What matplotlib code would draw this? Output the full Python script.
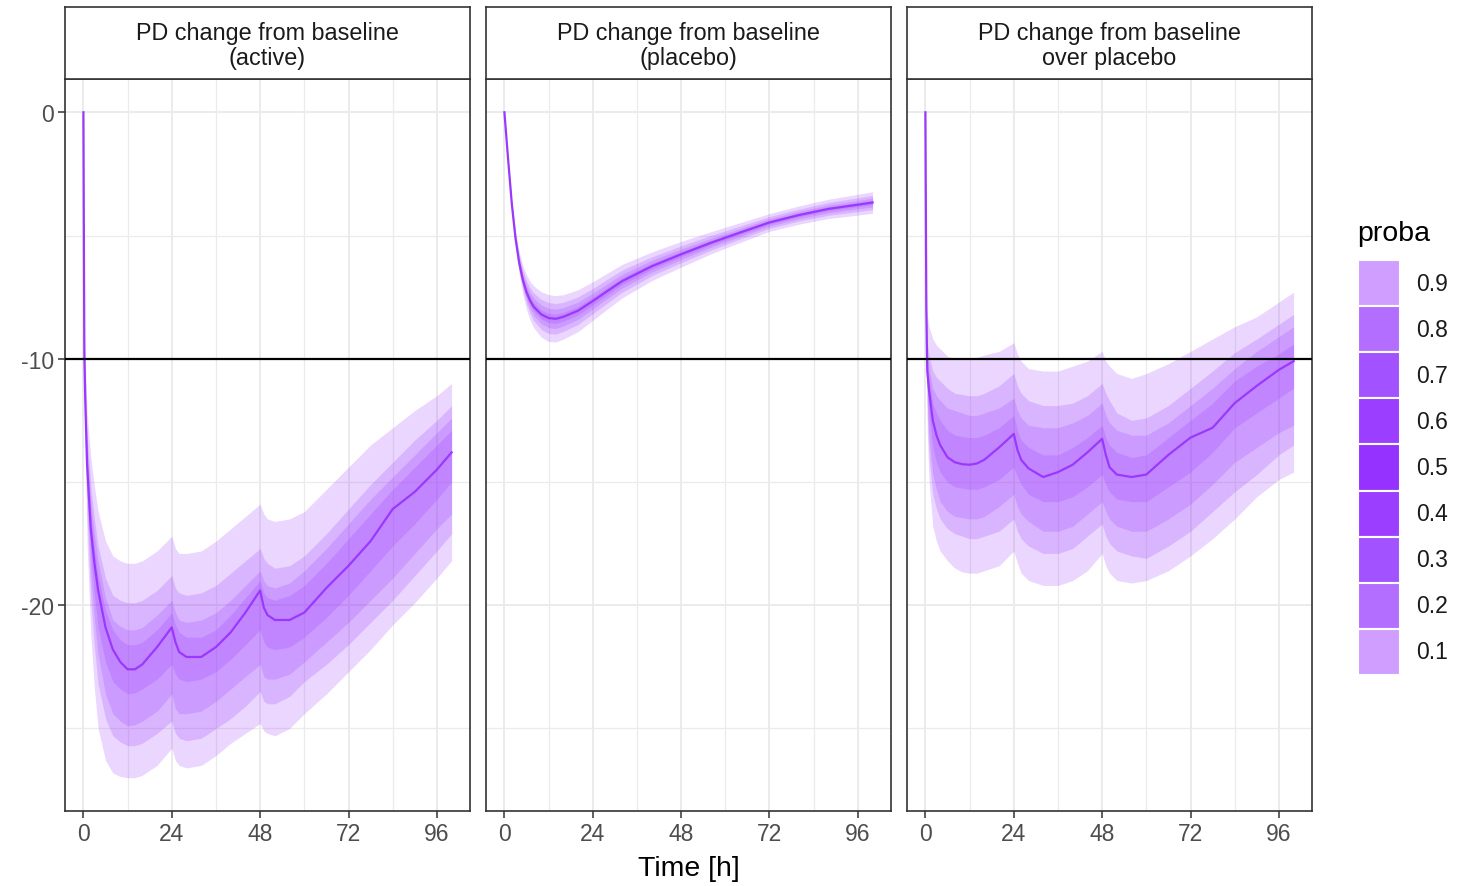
import matplotlib
matplotlib.use("Agg")
import matplotlib.pyplot as plt
from matplotlib.patches import Rectangle

plt.rcParams['font.family'] = ['Liberation Sans', 'DejaVu Sans']
plt.rcParams['axes.unicode_minus'] = False

# ---- data ----
facets = ["PD change from baseline\n(active)",
          "PD change from baseline\n(placebo)",
          "PD change from baseline\nover placebo"]

# active / over placebo share this time grid
t_dose = [0, 0.25, 0.5, 1, 2, 3, 4, 6, 8, 10, 12, 14, 16, 20, 24, 25, 26, 28, 32, 36, 40,
          44, 48, 49, 50, 52, 56, 60, 66, 72, 78, 84, 90, 96, 100]

act_q10 = [0, -11.0, -14.0, -17.5, -21.2, -23.4, -25.0, -26.3, -26.8, -26.95, -27.0, -27.0, -26.9, -26.5, -25.8, -26.3, -26.5,
           -26.6, -26.5, -26.1, -25.6, -25.2, -24.8, -25.1, -25.2, -25.3, -25.0, -24.4, -23.6, -22.7, -21.8, -20.8, -19.9, -18.9, -18.2]
act_q20 = [0, -10.5, -13.2, -16.4, -19.8, -21.7, -23.2, -24.6, -25.3, -25.55, -25.7, -25.7, -25.6, -25.2, -24.7, -25.2, -25.4,
           -25.5, -25.4, -25.0, -24.6, -24.1, -23.5, -23.9, -24.0, -24.0, -23.7, -23.1, -22.4, -21.6, -20.7, -19.8, -18.8, -17.8, -17.1]
act_q30 = [0, -10.2, -12.6, -15.6, -18.8, -20.6, -22.0, -23.6, -24.4, -24.7, -24.9, -24.85, -24.7, -24.3, -23.6, -24.2, -24.4,
           -24.4, -24.3, -23.9, -23.4, -22.9, -22.4, -22.9, -23.0, -23.0, -22.8, -22.3, -21.5, -20.7, -19.8, -18.9, -17.9, -16.9, -16.3]
act_q40 = [0, -10.0, -12.1, -15.0, -17.9, -19.6, -20.9, -22.3, -23.1, -23.4, -23.6, -23.55, -23.4, -23.0, -22.4, -22.8, -23.0,
           -23.1, -23.0, -22.7, -22.2, -21.6, -21.0, -21.5, -21.7, -21.8, -21.7, -21.3, -20.5, -19.6, -18.6, -17.6, -16.7, -15.7, -15.0]
act_q50 = [0, -9.8, -11.7, -14.3, -16.9, -18.3, -19.4, -20.9, -21.8, -22.3, -22.6, -22.6, -22.4, -21.7, -20.9, -21.5, -21.9,
           -22.1, -22.1, -21.7, -21.1, -20.3, -19.4, -20.1, -20.4, -20.6, -20.6, -20.3, -19.3, -18.4, -17.4, -16.1, -15.4, -14.5, -13.8]
act_q60 = [0, -9.6, -11.3, -13.9, -16.3, -17.7, -18.8, -20.2, -21.0, -21.4, -21.6, -21.6, -21.5, -21.0, -20.3, -20.8, -21.1,
           -21.3, -21.3, -21.0, -20.4, -19.7, -19.0, -19.5, -19.7, -19.8, -19.6, -19.2, -18.3, -17.3, -16.3, -15.3, -14.4, -13.5, -12.9]
act_q70 = [0, -9.4, -11.0, -13.5, -15.8, -17.1, -18.2, -19.7, -20.6, -20.85, -21.0, -21.0, -20.9, -20.4, -19.8, -20.3, -20.6,
           -20.7, -20.6, -20.3, -19.8, -19.2, -18.6, -19.0, -19.2, -19.3, -19.1, -18.6, -17.7, -16.7, -15.7, -14.8, -13.9, -13.0, -12.4]
act_q80 = [0, -9.2, -10.6, -13.0, -15.2, -16.5, -17.6, -18.9, -19.6, -19.8, -19.9, -19.9, -19.8, -19.4, -18.8, -19.3, -19.5,
           -19.6, -19.5, -19.2, -18.7, -18.2, -17.7, -18.1, -18.3, -18.5, -18.4, -18.0, -17.1, -16.1, -15.1, -14.2, -13.3, -12.5, -11.9]
act_q90 = [0, -8.8, -10.0, -12.2, -14.0, -15.2, -16.2, -17.4, -18.0, -18.2, -18.3, -18.3, -18.2, -17.8, -17.2, -17.7, -17.9,
           -17.9, -17.8, -17.4, -16.9, -16.4, -15.9, -16.3, -16.5, -16.6, -16.5, -16.2, -15.3, -14.4, -13.5, -12.8, -12.1, -11.5, -11.0]

ovr_q10 = [0, -9.0, -13.0, -15.0, -16.8, -17.4, -17.8, -18.2, -18.5, -18.65, -18.7, -18.7, -18.6, -18.4, -17.8, -18.3, -18.7,
           -19.0, -19.2, -19.2, -19.0, -18.6, -17.9, -18.4, -18.7, -19.0, -19.1, -19.0, -18.6, -18.0, -17.3, -16.5, -15.6, -14.9, -14.6]
ovr_q20 = [0, -8.6, -12.3, -14.0, -15.5, -16.1, -16.5, -16.9, -17.1, -17.2, -17.3, -17.3, -17.2, -17.0, -16.5, -17.0, -17.3,
           -17.6, -17.9, -17.9, -17.7, -17.2, -16.7, -17.2, -17.5, -17.8, -18.0, -18.1, -17.6, -17.0, -16.2, -15.4, -14.7, -13.9, -13.5]
ovr_q30 = [0, -8.4, -11.8, -13.2, -14.7, -15.3, -15.8, -16.2, -16.4, -16.45, -16.5, -16.5, -16.4, -16.0, -15.5, -16.0, -16.3,
           -16.6, -17.0, -17.0, -16.8, -16.3, -15.8, -16.2, -16.5, -16.8, -17.0, -17.0, -16.5, -15.9, -15.1, -14.2, -13.6, -13.0, -12.7]
ovr_q40 = [0, -8.2, -11.2, -12.3, -13.6, -14.2, -14.6, -15.0, -15.2, -15.25, -15.3, -15.3, -15.2, -14.9, -14.4, -14.8, -15.1,
           -15.5, -15.8, -15.8, -15.6, -15.2, -14.7, -15.1, -15.4, -15.7, -15.8, -15.8, -15.2, -14.6, -13.8, -12.8, -12.2, -11.6, -11.2]
ovr_q50 = [0, -8.0, -10.5, -11.3, -12.5, -13.1, -13.5, -14.0, -14.2, -14.28, -14.3, -14.25, -14.1, -13.6, -13.05, -13.7, -14.1,
           -14.45, -14.8, -14.6, -14.3, -13.8, -13.25, -13.9, -14.4, -14.7, -14.8, -14.7, -13.9, -13.2, -12.8, -11.8, -11.1, -10.45, -10.1]
ovr_q60 = [0, -7.9, -10.1, -10.8, -11.8, -12.2, -12.5, -12.9, -13.1, -13.15, -13.2, -13.2, -13.1, -12.8, -12.3, -12.9, -13.3,
           -13.6, -13.9, -13.9, -13.6, -13.2, -12.7, -13.2, -13.5, -13.8, -14.0, -13.9, -13.2, -12.5, -11.8, -10.9, -10.3, -9.8, -9.4]
ovr_q70 = [0, -7.7, -9.7, -10.4, -11.2, -11.5, -11.7, -12.0, -12.1, -12.2, -12.3, -12.3, -12.2, -12.0, -11.6, -12.1, -12.4,
           -12.7, -12.8, -12.8, -12.6, -12.3, -11.8, -12.3, -12.6, -12.9, -13.1, -13.1, -12.6, -11.9, -11.2, -10.4, -9.7, -9.1, -8.7]
ovr_q80 = [0, -7.5, -9.3, -9.9, -10.5, -10.75, -10.9, -11.2, -11.4, -11.45, -11.5, -11.5, -11.4, -11.1, -10.6, -11.1, -11.4,
           -11.7, -11.9, -11.9, -11.8, -11.5, -11.0, -11.4, -11.7, -12.2, -12.5, -12.4, -11.9, -11.2, -10.5, -9.75, -9.2, -8.6, -8.2]
ovr_q90 = [0, -7.0, -8.2, -8.7, -9.2, -9.45, -9.6, -9.9, -10.0, -10.0, -10.0, -9.95, -9.85, -9.7, -9.35, -9.8, -10.1,
           -10.4, -10.5, -10.5, -10.3, -10.1, -9.7, -10.1, -10.3, -10.6, -10.8, -10.6, -10.2, -9.7, -9.2, -8.7, -8.3, -7.7, -7.3]

# placebo
t_pla = [0, 1, 2, 3, 4, 5, 6, 7, 8, 10, 12, 14, 16, 20, 24, 28, 32, 36, 40, 48, 56, 64, 72, 80, 88, 96, 100]
pla_q10 = [0, -1.95, -3.85, -5.4, -6.55, -7.38, -8.0, -8.43, -8.75, -9.12, -9.3, -9.32, -9.2, -8.9, -8.44, -7.98, -7.53,
           -7.18, -6.83, -6.28, -5.75, -5.28, -4.83, -4.54, -4.31, -4.17, -4.1]
pla_q20 = [0, -1.93, -3.8, -5.3, -6.4, -7.18, -7.76, -8.16, -8.46, -8.81, -8.98, -9.0, -8.89, -8.61, -8.17, -7.73, -7.3,
           -6.97, -6.63, -6.1, -5.6, -5.14, -4.71, -4.41, -4.18, -4.03, -3.95]
pla_q30 = [0, -1.92, -3.76, -5.22, -6.28, -7.04, -7.59, -7.97, -8.25, -8.58, -8.74, -8.77, -8.67, -8.4, -7.98, -7.55, -7.13,
           -6.81, -6.49, -5.97, -5.48, -5.04, -4.62, -4.32, -4.08, -3.92, -3.84]
pla_q40 = [0, -1.91, -3.73, -5.16, -6.19, -6.92, -7.44, -7.81, -8.07, -8.38, -8.54, -8.57, -8.48, -8.22, -7.82, -7.4, -6.99,
           -6.68, -6.37, -5.86, -5.39, -4.96, -4.54, -4.24, -4.0, -3.83, -3.75]
pla_q50 = [0, -1.9, -3.7, -5.1, -6.1, -6.8, -7.3, -7.65, -7.9, -8.2, -8.35, -8.38, -8.3, -8.05, -7.66, -7.25, -6.85,
           -6.55, -6.25, -5.76, -5.3, -4.88, -4.47, -4.17, -3.92, -3.75, -3.66]
pla_q60 = [0, -1.89, -3.67, -5.04, -6.01, -6.68, -7.16, -7.49, -7.73, -8.02, -8.16, -8.19, -8.12, -7.88, -7.5, -7.1, -6.71,
           -6.42, -6.13, -5.66, -5.21, -4.8, -4.4, -4.1, -3.84, -3.67, -3.57]
pla_q70 = [0, -1.88, -3.64, -4.98, -5.92, -6.56, -7.01, -7.33, -7.55, -7.82, -7.96, -7.99, -7.93, -7.7, -7.34, -6.95, -6.57,
           -6.29, -6.01, -5.55, -5.12, -4.72, -4.32, -4.02, -3.76, -3.58, -3.48]
pla_q80 = [0, -1.87, -3.6, -4.9, -5.8, -6.42, -6.84, -7.14, -7.34, -7.59, -7.72, -7.76, -7.71, -7.49, -7.15, -6.77, -6.4,
           -6.13, -5.87, -5.42, -5.0, -4.62, -4.23, -3.93, -3.66, -3.47, -3.37]
pla_q90 = [0, -1.85, -3.55, -4.8, -5.65, -6.22, -6.6, -6.87, -7.05, -7.28, -7.4, -7.44, -7.4, -7.2, -6.88, -6.52, -6.17,
           -5.92, -5.67, -5.24, -4.85, -4.48, -4.11, -3.8, -3.53, -3.33, -3.22]

ref_line = -10
x_ticks = [0, 24, 48, 72, 96]
y_ticks = [0, -10, -20]

legend_probs = ["0.9", "0.8", "0.7", "0.6", "0.5", "0.4", "0.3", "0.2", "0.1"]
legend_cols = ["#CF9EFF", "#B46EFF", "#A352FF", "#9B3EFF", "#9632FF",
               "#9B3EFF", "#A352FF", "#B46EFF", "#CF9EFF"]

panels = [
    (t_dose, [act_q10, act_q20, act_q30, act_q40, act_q50, act_q60, act_q70, act_q80, act_q90]),
    (t_pla, [pla_q10, pla_q20, pla_q30, pla_q40, pla_q50, pla_q60, pla_q70, pla_q80, pla_q90]),
    (t_dose, [ovr_q10, ovr_q20, ovr_q30, ovr_q40, ovr_q50, ovr_q60, ovr_q70, ovr_q80, ovr_q90]),
]

# ---- figure ----
W, H = 1470, 887
fig = plt.figure(figsize=(W / 100, H / 100), dpi=100)

purple = "#9933FF"
grid_col = "#EBEBEB"
frame_col = "#333333"

all_vals = [v for _, qs in panels for q in qs for v in q]
ymin, ymax = min(all_vals), max(all_vals)
pad = 0.05 * (ymax - ymin)

lefts = [65, 486, 907]
pw = 405
top_plot, bot_plot = 80, 812
strip_top = 8

for i, (tt, qs) in enumerate(panels):
    ax = fig.add_axes([lefts[i] / W, 1 - bot_plot / H, pw / W, (bot_plot - top_plot) / H])
    for k in range(4):
        ax.fill_between(tt, qs[k], qs[8 - k], color=purple, alpha=0.2, lw=0, zorder=2)
    ax.plot(tt, qs[4], color="#9A38FF", lw=1.6, zorder=3)
    ax.axhline(ref_line, color="black", lw=1.6, zorder=4)

    ax.set_xlim(-5, 105)
    ax.set_ylim(ymin - pad, ymax + pad)
    ax.set_xticks(x_ticks)
    ax.set_xticks([12, 36, 60, 84], minor=True)
    ax.set_yticks(y_ticks)
    ax.set_yticks([-5, -15, -25], minor=True)
    ax.grid(which="major", color=grid_col, lw=1.4)
    ax.grid(which="minor", color=grid_col, lw=0.9)
    ax.set_axisbelow(True)
    ax.tick_params(which="minor", length=0)
    ax.tick_params(which="major", length=5, width=1.1, color=frame_col,
                   labelsize=16.5, labelcolor="#4D4D4D", pad=3)
    if i > 0:
        ax.tick_params(axis="y", labelleft=False, length=0)
    for s in ax.spines.values():
        s.set_color(frame_col)
        s.set_linewidth(1.2)

    st = fig.add_axes([lefts[i] / W, 1 - top_plot / H, pw / W, (top_plot - strip_top) / H])
    st.set_xticks([])
    st.set_yticks([])
    for s in st.spines.values():
        s.set_color(frame_col)
        s.set_linewidth(1.2)
    st.text(0.5, 0.47, facets[i], ha="center", va="center", fontsize=16.8,
            color="#1A1A1A", linespacing=1.12, transform=st.transAxes)

# axis title
fig.text((lefts[0] + lefts[2] + pw) / 2 / W, 1 - 869 / H, "Time [h]",
         ha="center", va="center", fontsize=20.5, color="black")

# legend drawn by hand
fig.text(1357 / W, 1 - 234 / H, "proba", ha="left", va="center", fontsize=20.5)
key_top, key_h, key_w = 261, 46.1, 42
for j, (lab, col) in enumerate(zip(legend_probs, legend_cols)):
    y0 = key_top + j * key_h
    fig.patches.append(Rectangle((1358 / W, 1 - (y0 + key_h) / H), key_w / W, key_h / H,
                                 transform=fig.transFigure, facecolor=col,
                                 edgecolor="white", lw=1.5))
    fig.text(1416 / W, 1 - (y0 + key_h / 2) / H, lab, ha="left", va="center",
             fontsize=16.5, color="#1A1A1A")

fig.savefig("out.png", dpi=100, facecolor="white")
